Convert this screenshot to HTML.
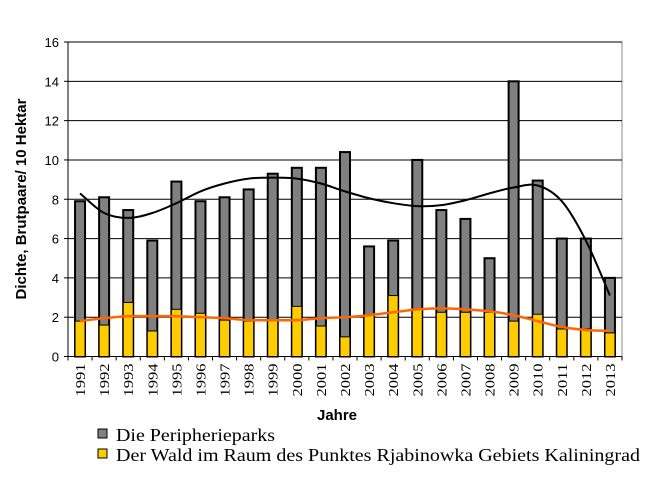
<!DOCTYPE html>
<html><head><meta charset="utf-8"><style>
body{margin:0;background:#fff;width:655px;height:474px;overflow:hidden}
svg text{font-family:"Liberation Sans",sans-serif}
</style></head><body>
<svg id="c" width="655" height="474" xmlns="http://www.w3.org/2000/svg"></svg>
<script>
const years=["1991","1992","1993","1994","1995","1996","1997","1998","1999","2000","2001","2002","2003","2004","2005","2006","2007","2008","2009","2010","2011","2012","2013"];
const parks=[7.9,8.1,7.45,5.9,8.9,7.9,8.1,8.5,9.3,9.6,9.6,10.4,5.6,5.9,10.0,7.45,7.0,5.0,14.0,8.95,6.0,6.0,4.0];
const forest=[1.8,1.6,2.75,1.3,2.4,2.2,1.85,1.8,1.85,2.55,1.55,1.0,2.1,3.1,2.4,2.25,2.25,2.25,1.8,2.15,1.4,1.4,1.2];
const parksTrend=[8.3,7.3,7.05,7.3,7.8,8.4,8.8,9.05,9.1,9.05,8.8,8.4,8.05,7.8,7.65,7.7,7.95,8.3,8.6,8.7,7.9,5.9,3.1];
const forestTrend=[1.8,1.95,2.05,2.05,2.05,2.0,1.95,1.85,1.85,1.85,1.95,2.0,2.1,2.25,2.4,2.45,2.4,2.3,2.1,1.8,1.5,1.35,1.3];
const yTicks=[0,2,4,6,8,10,12,14,16];
const svg=document.getElementById('c');const NS='http://www.w3.org/2000/svg';
const L=68,R=622,T=42,B=356.5,ymax=16;
const bw=(R-L)/years.length;
const xc=i=>L+bw*(i+0.5);
const y=v=>B-(v/ymax)*(B-T);
function mk(t,a,p){const e=document.createElementNS(NS,t);for(const k in a)e.setAttribute(k,a[k]);(p||svg).appendChild(e);return e;}
let e=mk('rect',{x:L,y:T,width:R-L,height:B-T,fill:'#fff',stroke:'#888','stroke-width':1});

yTicks.forEach(v=>{
 if(v>0){e=mk('line',{x1:L,x2:R,y1:y(v),y2:y(v),stroke:'#000','stroke-width':1});
 }
 mk('line',{x1:L-4,x2:L,y1:y(v),y2:y(v),stroke:'#000'});
 e=mk('text',{x:L-9,y:y(v)+5,'text-anchor':'end','font-size':13});e.textContent=v;
 
});
mk('line',{x1:L,x2:L,y1:T,y2:B,stroke:'#000'});
mk('line',{x1:L,x2:R,y1:B,y2:B,stroke:'#000'});
years.forEach((yr,i)=>{
 mk('line',{x1:L+bw*i,x2:L+bw*i,y1:B,y2:B+4,stroke:'#000'});
 e=mk('rect',{x:xc(i)-5,y:y(parks[i]),width:10,height:B-y(parks[i]),fill:'#808080',stroke:'#000','stroke-width':2});
 
 e=mk('rect',{x:xc(i)-5,y:y(forest[i]),width:10,height:B-y(forest[i]),fill:'#ffcc00',stroke:'#000','stroke-width':1});
 
 e=mk('text',{transform:`translate(${xc(i)+5},${B+7}) rotate(-90)`,'text-anchor':'end','font-size':14,textLength:33,lengthAdjust:'spacingAndGlyphs',style:'font-family:"Liberation Serif",serif'});e.textContent=yr;
 
});
mk('line',{x1:R,x2:R,y1:B,y2:B+4,stroke:'#000'});
function smooth(vals){const p=vals.map((v,i)=>[xc(i),y(v)]);let d=`M${p[0][0]},${p[0][1]}`;
 for(let i=0;i<p.length-1;i++){const p0=p[i-1]||p[i],p1=p[i],p2=p[i+1],p3=p[i+2]||p2;
 d+=` C${p1[0]+(p2[0]-p0[0])/6},${p1[1]+(p2[1]-p0[1])/6} ${p2[0]-(p3[0]-p1[0])/6},${p2[1]-(p3[1]-p1[1])/6} ${p2[0]},${p2[1]}`;}return d;}
e=mk('path',{d:smooth(forestTrend),fill:'none',stroke:'#ff6600','stroke-width':2.5});

e=mk('path',{d:smooth(parksTrend),fill:'none',stroke:'#000','stroke-width':2});

e=mk('text',{transform:'translate(26,199) rotate(-90)','text-anchor':'middle','font-size':15,'font-weight':'bold'});e.textContent='Dichte, Brutpaare/ 10 Hektar';

e=mk('text',{x:337,y:420,'text-anchor':'middle','font-size':15,'font-weight':'bold'});e.textContent='Jahre';

[['Die Peripherieparks','#808080',159],['Der Wald im Raum des Punktes Rjabinowka Gebiets Kaliningrad','#ffcc00',524]].forEach((l,i)=>{
 const g=mk('g',{});
 mk('rect',{x:98,y:429+i*20,width:9,height:9,fill:l[1],stroke:'#000'},g);
 const t=mk('text',{x:116,y:441+i*20,'font-size':18,textLength:l[2],lengthAdjust:'spacingAndGlyphs',style:'font-family:"Liberation Serif",serif'},g);t.textContent=l[0];
});
</script>
</body></html>
